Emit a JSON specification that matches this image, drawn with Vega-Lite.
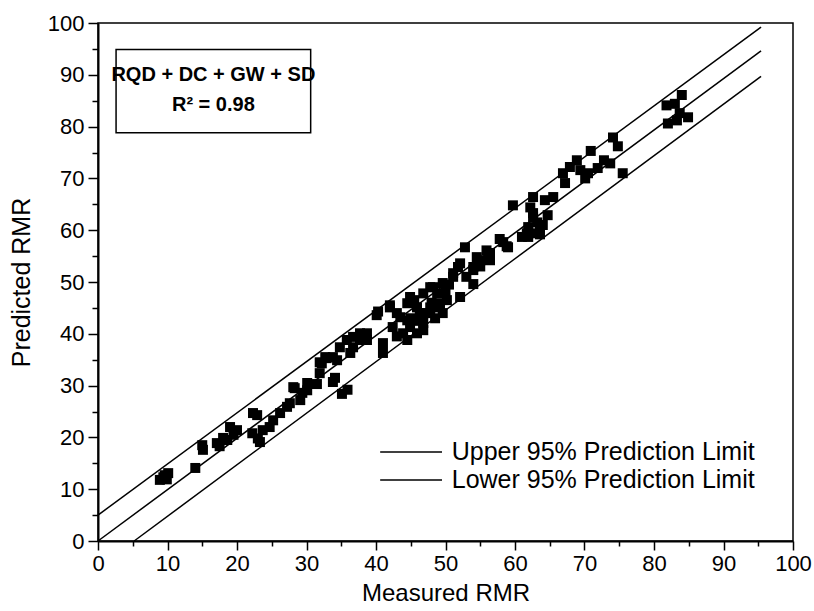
{
  "$schema": "https://vega.github.io/schema/vega-lite/v6.json",
  "autosize": {"type": "none"},
  "padding": {"left": 98, "top": 23, "right": 21, "bottom": 70},
  "width": 695,
  "height": 518,
  "background": "white",
  "config": {
    "view": {"stroke": "black", "strokeWidth": 1.5},
    "font": "Liberation Sans"
  },
  "datasets": {
    "pts": [
      {"x": 8.9, "y": 11.8}, {"x": 9.4, "y": 12.3}, {"x": 9.6, "y": 12.7}, {"x": 10.1, "y": 13.1}, {"x": 9.9, "y": 11.9},
      {"x": 14.0, "y": 14.1}, {"x": 15.0, "y": 18.5}, {"x": 15.1, "y": 17.6},
      {"x": 17.1, "y": 18.9}, {"x": 18.0, "y": 19.9}, {"x": 18.6, "y": 19.5}, {"x": 19.0, "y": 22.0}, {"x": 20.0, "y": 21.4}, {"x": 19.5, "y": 20.5}, {"x": 17.5, "y": 18.3},
      {"x": 22.3, "y": 24.7}, {"x": 22.9, "y": 24.3}, {"x": 22.2, "y": 20.8}, {"x": 23.3, "y": 19.1}, {"x": 23.0, "y": 19.8}, {"x": 23.7, "y": 21.4}, {"x": 24.7, "y": 22.0},
      {"x": 25.2, "y": 23.3}, {"x": 26.2, "y": 24.7}, {"x": 27.2, "y": 25.9}, {"x": 27.6, "y": 26.6}, {"x": 28.1, "y": 29.7}, {"x": 28.3, "y": 29.5}, {"x": 29.1, "y": 27.2},
      {"x": 29.4, "y": 28.6}, {"x": 30.1, "y": 30.5}, {"x": 30.1, "y": 29.1}, {"x": 31.5, "y": 30.3}, {"x": 31.9, "y": 32.4}, {"x": 31.9, "y": 34.5}, {"x": 32.2, "y": 34.3},
      {"x": 32.7, "y": 35.5}, {"x": 32.9, "y": 35.3}, {"x": 33.8, "y": 35.5}, {"x": 33.8, "y": 30.7}, {"x": 34.1, "y": 31.5}, {"x": 34.4, "y": 34.9}, {"x": 34.8, "y": 37.4},
      {"x": 35.1, "y": 28.4}, {"x": 35.9, "y": 29.2}, {"x": 35.8, "y": 38.8}, {"x": 36.3, "y": 36.3}, {"x": 36.7, "y": 37.4}, {"x": 36.7, "y": 39.4}, {"x": 37.7, "y": 38.8},
      {"x": 37.7, "y": 40.1}, {"x": 38.7, "y": 40.1}, {"x": 38.7, "y": 38.8}, {"x": 40.1, "y": 43.6}, {"x": 40.3, "y": 44.3}, {"x": 41.0, "y": 38.2}, {"x": 41.0, "y": 36.3},
      {"x": 42.0, "y": 45.5}, {"x": 42.0, "y": 45.1}, {"x": 42.4, "y": 41.3}, {"x": 43.5, "y": 43.2}, {"x": 43.9, "y": 40.1}, {"x": 44.5, "y": 45.9}, {"x": 44.5, "y": 42.6},
      {"x": 44.5, "y": 38.8}, {"x": 44.9, "y": 47.1}, {"x": 44.9, "y": 41.3}, {"x": 45.9, "y": 45.1}, {"x": 45.9, "y": 40.1}, {"x": 46.3, "y": 44.0}, {"x": 46.8, "y": 47.8},
      {"x": 46.8, "y": 42.1}, {"x": 46.8, "y": 40.7}, {"x": 47.8, "y": 49.0}, {"x": 47.8, "y": 45.1}, {"x": 47.8, "y": 44.0}, {"x": 48.2, "y": 49.0}, {"x": 48.8, "y": 47.8},
      {"x": 49.2, "y": 45.9}, {"x": 49.2, "y": 45.1}, {"x": 49.6, "y": 49.8}, {"x": 49.6, "y": 44.0}, {"x": 50.2, "y": 46.5}, {"x": 51.1, "y": 51.0}, {"x": 51.1, "y": 51.7},
      {"x": 51.8, "y": 52.9}, {"x": 52.1, "y": 53.6}, {"x": 52.1, "y": 47.1}, {"x": 52.8, "y": 56.7}, {"x": 54.0, "y": 52.9}, {"x": 54.0, "y": 52.3}, {"x": 54.0, "y": 49.6},
      {"x": 54.5, "y": 54.8}, {"x": 55.0, "y": 54.2}, {"x": 55.9, "y": 56.1}, {"x": 56.4, "y": 55.6}, {"x": 56.4, "y": 54.2}, {"x": 57.8, "y": 58.3}, {"x": 58.8, "y": 56.9},
      {"x": 58.3, "y": 57.7}, {"x": 59.0, "y": 56.7}, {"x": 59.7, "y": 64.8}, {"x": 61.0, "y": 58.7}, {"x": 61.7, "y": 59.4}, {"x": 61.9, "y": 60.6}, {"x": 61.9, "y": 58.7},
      {"x": 62.2, "y": 64.4}, {"x": 62.2, "y": 59.4}, {"x": 62.6, "y": 66.4}, {"x": 62.6, "y": 63.3}, {"x": 62.6, "y": 62.5}, {"x": 63.2, "y": 61.5}, {"x": 63.6, "y": 60.0},
      {"x": 63.6, "y": 59.2}, {"x": 64.0, "y": 61.0}, {"x": 64.3, "y": 65.8}, {"x": 64.7, "y": 62.9}, {"x": 65.5, "y": 66.4}, {"x": 66.9, "y": 71.0}, {"x": 67.2, "y": 69.1},
      {"x": 67.9, "y": 72.2}, {"x": 68.9, "y": 73.5}, {"x": 69.4, "y": 71.6}, {"x": 70.1, "y": 70.0}, {"x": 70.5, "y": 71.0}, {"x": 70.9, "y": 75.3}, {"x": 71.9, "y": 72.0},
      {"x": 72.8, "y": 73.5}, {"x": 73.7, "y": 72.9}, {"x": 74.1, "y": 77.9}, {"x": 74.8, "y": 76.2}, {"x": 75.5, "y": 71.0},
      {"x": 81.8, "y": 84.1}, {"x": 83.0, "y": 84.4}, {"x": 84.0, "y": 86.1}, {"x": 83.7, "y": 82.6}, {"x": 84.9, "y": 81.8}, {"x": 82.0, "y": 80.6}, {"x": 83.3, "y": 81.2},
      {"x": 43.0, "y": 44.0}, {"x": 45.0, "y": 43.0}, {"x": 46.0, "y": 42.5}, {"x": 47.0, "y": 44.0}, {"x": 48.0, "y": 46.0}, {"x": 43.0, "y": 39.5},
      {"x": 45.5, "y": 46.5}, {"x": 48.5, "y": 43.0}, {"x": 50.0, "y": 48.0}, {"x": 50.5, "y": 49.5}, {"x": 53.0, "y": 51.0}, {"x": 55.0, "y": 53.0}
    ],
    "lines": [
      {"name": "upper", "x": 0, "y": 5},
      {"name": "upper", "x": 95.4, "y": 99.2},
      {"name": "fit", "x": 0, "y": 0},
      {"name": "fit", "x": 95.4, "y": 94.6},
      {"name": "lower", "x": 5.2, "y": 0},
      {"name": "lower", "x": 95.4, "y": 89.7}
    ],
    "box": [
      {"x": 2.6, "x2": 30.6, "y": 78.8, "y2": 94.9}
    ],
    "boxtext": [
      {"x": 16.6, "y": 89.9, "t": "RQD + DC + GW + SD"},
      {"x": 16.6, "y": 84.1, "t": "R² = 0.98"}
    ],
    "legline": [
      {"x": 40.6, "x2": 49.5, "y": 17.2},
      {"x": 40.6, "x2": 49.5, "y": 11.8}
    ],
    "legtext": [
      {"x": 50.9, "y": 17.2, "t": "Upper 95% Prediction Limit"},
      {"x": 50.9, "y": 11.8, "t": "Lower 95% Prediction Limit"}
    ]
  },
  "encoding": {
    "x": {
      "field": "x", "type": "quantitative",
      "scale": {"domain": [0, 100], "nice": false, "zero": false},
      "axis": {
        "title": "Measured RMR",
        "values": [0, 5, 10, 15, 20, 25, 30, 35, 40, 45, 50, 55, 60, 65, 70, 75, 80, 85, 90, 95, 100],
        "labelExpr": "datum.value % 10 === 0 ? datum.label : ''",
        "tickSize": {"condition": {"test": "datum.value % 10 === 0", "value": 9}, "value": 5},
        "grid": false, "labelFlush": false, "labelOverlap": false,
        "domainColor": "black", "domainWidth": 2, "tickColor": "black", "tickWidth": 1.5,
        "labelFontSize": 22, "labelColor": "black", "labelPadding": 3,
        "titleFontSize": 24, "titleFontWeight": "normal", "titleColor": "black", "titlePadding": 7
      }
    },
    "y": {
      "field": "y", "type": "quantitative",
      "scale": {"domain": [0, 100], "nice": false, "zero": false},
      "axis": {
        "title": "Predicted RMR",
        "values": [0, 5, 10, 15, 20, 25, 30, 35, 40, 45, 50, 55, 60, 65, 70, 75, 80, 85, 90, 95, 100],
        "labelExpr": "datum.value % 10 === 0 ? datum.label : ''",
        "tickSize": {"condition": {"test": "datum.value % 10 === 0", "value": 10}, "value": 6},
        "grid": false, "labelFlush": false, "labelOverlap": false,
        "domainColor": "black", "domainWidth": 2, "tickColor": "black", "tickWidth": 1.5,
        "labelFontSize": 22, "labelColor": "black", "labelPadding": 4,
        "titleFontSize": 25, "titleFontWeight": "normal", "titleColor": "black", "titlePadding": 13
      }
    }
  },
  "layer": [
    {
      "data": {"name": "lines"},
      "mark": {"type": "line", "color": "black", "strokeWidth": 1.5},
      "encoding": {
        "detail": {"field": "name"},
        "order": {"field": "x"}
      }
    },
    {
      "data": {"name": "pts"},
      "mark": {"type": "point", "shape": "square", "filled": true, "color": "black", "opacity": 1, "size": 100}
    },
    {
      "data": {"name": "box"},
      "mark": {"type": "rect", "fill": "white", "stroke": "black", "strokeWidth": 1.5},
      "encoding": {
        "x2": {"field": "x2"},
        "y2": {"field": "y2"}
      }
    },
    {
      "data": {"name": "boxtext"},
      "mark": {"type": "text", "fontWeight": "bold", "fontSize": 20, "color": "black", "align": "center", "baseline": "middle"},
      "encoding": {
        "text": {"field": "t"}
      }
    },
    {
      "data": {"name": "legline"},
      "mark": {"type": "rule", "color": "black", "strokeWidth": 1.5},
      "encoding": {
        "x2": {"field": "x2"}
      }
    },
    {
      "data": {"name": "legtext"},
      "mark": {"type": "text", "fontSize": 25, "color": "black", "align": "left", "baseline": "middle"},
      "encoding": {
        "text": {"field": "t"}
      }
    }
  ]
}
